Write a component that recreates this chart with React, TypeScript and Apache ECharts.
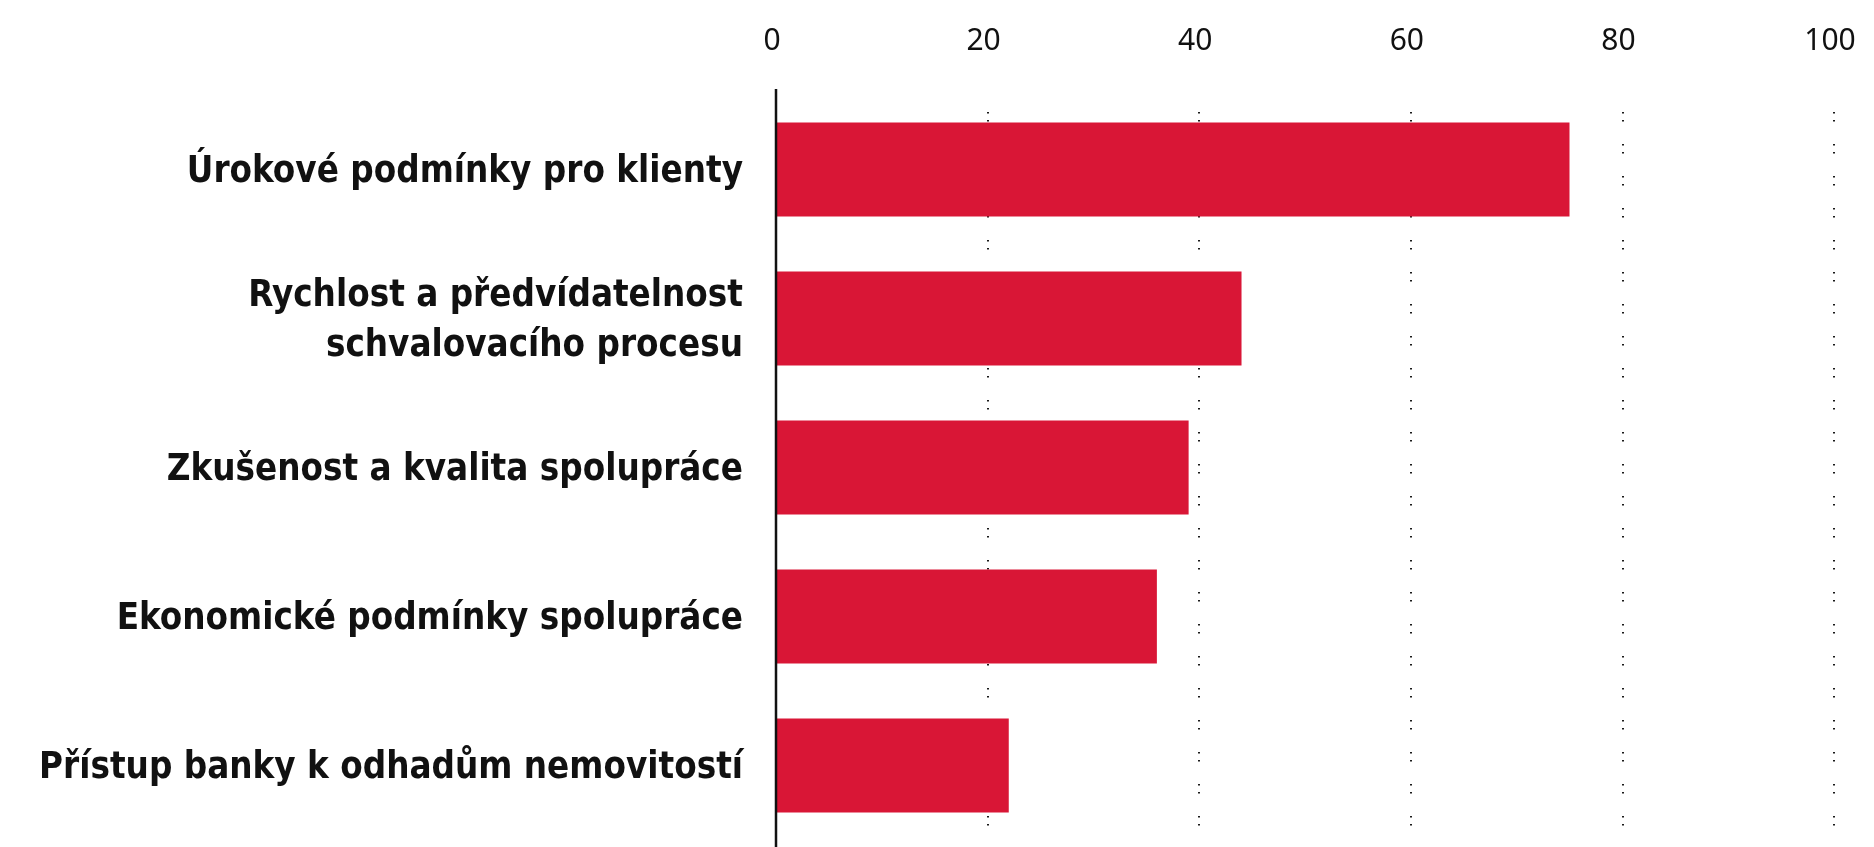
import React, { useEffect, useRef } from "react";
import * as echarts from "echarts";

const categories = [
  "Úrokové podmínky pro klienty",
  "Rychlost a předvídatelnost\nschvalovacího procesu",
  "Zkušenost a kvalita spolupráce",
  "Ekonomické podmínky spolupráce",
  "Přístup banky k odhadům nemovitostí",
];
const values = [75, 44, 39, 36, 22];
const axisMin = 0;
const axisMax = 100;
const axisStep = 20;

export default function App() {
  const ref = useRef<HTMLDivElement>(null);
  useEffect(() => {
    if (!ref.current) return;
    const chart = echarts.init(ref.current, null, { renderer: "svg" });
    chart.setOption({
      animation: false,
      grid: {
        left: 776,
        right: 40,
        top: 95,
        bottom: 7,
        containLabel: false,
        outerBoundsMode: "none",
      },
      xAxis: {
        type: "value",
        position: "top",
        min: axisMin,
        max: axisMax,
        interval: axisStep,
        axisLine: { show: false },
        axisTick: { show: false },
        axisLabel: {
          margin: 42,
          color: "#111",
          fontFamily: "'Noto Sans', sans-serif",
          fontSize: 30,
          lineHeight: 30,
          padding: [0, 8, 0, 0],
        },
        splitLine: {
          show: true,
          lineStyle: {
            color: "#1a1a1a",
            width: 2,
            type: [1.5, 6.5, 1.5, 22.5],
            dashOffset: 15,
          },
        },
      },
      yAxis: {
        type: "category",
        data: categories,
        inverse: true,
        axisLine: { show: false },
        axisTick: { show: false },
        splitLine: { show: false },
        axisLabel: {
          margin: 33,
          color: "#111",
          fontFamily: "'DejaVu Sans Condensed', 'DejaVu Sans', sans-serif",
          fontWeight: "bold",
          fontSize: 36.4,
          lineHeight: 50,
          align: "right",
        },
      },
      series: [
        {
          type: "bar",
          data: values,
          barCategoryGap: "37%",
          itemStyle: { color: "#D91636" },
          silent: true,
        },
      ],
    });
    const x0 = chart.convertToPixel({ xAxisIndex: 0 }, axisMin) as number;
    chart.setOption({
      graphic: [
        {
          type: "line",
          shape: { x1: x0, y1: 89, x2: x0, y2: 847 },
          style: { stroke: "#111", lineWidth: 2.5 },
          z: 10,
        },
      ],
    });
    return () => chart.dispose();
  }, []);
  return (
    <div
      ref={ref}
      style={{ position: "fixed", left: 0, top: 0, width: 1874, height: 847 }}
    />
  );
}
